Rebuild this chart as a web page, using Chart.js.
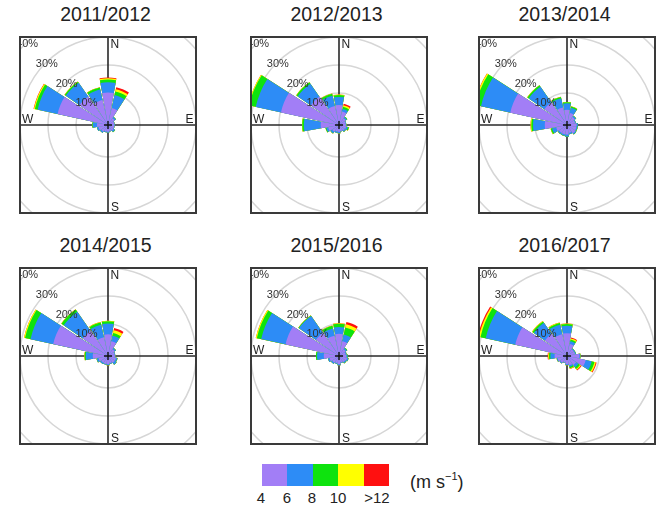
<!DOCTYPE html>
<html>
<head>
<meta charset="utf-8">
<script src="https://cdn.jsdelivr.net/npm/chart.js@4/dist/chart.umd.min.js"></script>
<style>
  html, body { margin: 0; padding: 0; background: #fff; }
  body { width: 658px; height: 510px; position: relative; overflow: hidden;
         font-family: "Liberation Sans", Arial, Helvetica, sans-serif; color: #222; }
  .title { position: absolute; width: 200px; text-align: center; font-size: 19.5px; line-height: 19.5px; color: #222; }
  .box { position: absolute; width: 174px; height: 174px; border: 2px solid #3a3a3a; }
  .box canvas { display: block; }
  #legend { position: absolute; left: 262px; top: 464px; height: 22px; display: flex; }
  #legend div { width: 25.4px; height: 22px; }
  .lg { position: absolute; top: 490px; font-size: 15px; line-height: 15px; width: 40px; text-align: center; color: #222; }
  #unit { position: absolute; left: 410px; top: 468px; font-size: 18px; line-height: 18px; color: #222; }
  #unit sup { font-size: 11px; position: relative; top: -1px; }
</style>
</head>
<body>
<script>
// ---------------- data ----------------
const directions = ['N','NNE','NE','ENE','E','ESE','SE','SSE','S','SSW','SW','WSW','W','WNW','NW','NNW'];
const speedBins = ['4-6', '6-8', '8-10', '10-12', '>12'];
const legendTicks = ['4', '6', '8', '10', '>12'];
const gridPercents = [10, 20, 30, 40];
const seasons = ['2011/2012', '2012/2013', '2013/2014', '2014/2015', '2015/2016', '2016/2017'];

// cumulative frequency (%) per direction, up to the top of each speed bin
const rose2011 = [
  [10.2, 4.8, 1.5, 0.8, 0.8, 0.8, 1.0, 0.8, 1.0, 1.0, 1.5, 2.0, 2.5, 17.0, 11.0, 7.7],
  [13.8, 9.5, 2.0, 1.0, 1.0, 1.0, 1.6, 1.0, 1.3, 1.3, 2.0, 2.6, 4.0, 24.3, 16.9, 11.5],
  [14.8, 10.8, 2.1, 1.0, 1.0, 1.0, 1.7, 1.0, 1.3, 1.3, 2.0, 2.6, 4.2, 25.3, 17.4, 12.3],
  [15.3, 11.6, 2.1, 1.0, 1.0, 1.0, 1.7, 1.0, 1.3, 1.3, 2.0, 2.6, 4.2, 25.7, 17.5, 12.4],
  [15.5, 12.4, 2.1, 1.0, 1.0, 1.0, 1.7, 1.0, 1.3, 1.3, 2.0, 2.6, 4.2, 25.8, 17.5, 12.4]
];
const rose2012 = [
  [5.7, 3.5, 1.5, 1.0, 1.0, 1.2, 1.0, 0.8, 1.0, 1.0, 1.5, 2.5, 5.1, 19.8, 10.8, 5.5],
  [8.6, 4.5, 2.0, 1.2, 1.2, 1.8, 1.5, 1.0, 1.5, 1.5, 2.2, 3.2, 11.1, 29.0, 16.5, 9.3],
  [9.3, 5.2, 2.2, 1.2, 1.3, 2.2, 1.6, 1.0, 1.6, 1.5, 2.3, 3.5, 11.7, 31.4, 17.1, 10.0],
  [9.5, 5.8, 2.2, 1.2, 1.3, 2.3, 1.6, 1.0, 1.6, 1.5, 2.3, 3.5, 11.8, 31.7, 17.2, 10.1],
  [9.5, 6.3, 2.2, 1.2, 1.3, 2.3, 1.6, 1.0, 1.6, 1.5, 2.3, 3.5, 11.8, 31.7, 17.2, 10.1]
];
const rose2013 = [
  [4.0, 3.0, 2.0, 1.5, 2.0, 2.0, 2.2, 1.5, 2.0, 2.0, 2.0, 2.5, 6.5, 19.3, 8.4, 5.0],
  [6.3, 4.9, 2.5, 1.8, 2.4, 2.4, 2.6, 2.0, 2.7, 2.5, 2.5, 4.0, 10.7, 30.0, 15.2, 8.3],
  [6.7, 5.3, 2.6, 1.8, 2.5, 2.5, 2.7, 2.0, 2.8, 2.6, 2.6, 4.5, 11.3, 32.0, 15.8, 8.8],
  [6.8, 5.4, 2.6, 1.8, 2.5, 2.5, 2.7, 2.0, 2.8, 2.6, 2.6, 4.6, 11.6, 32.5, 15.9, 8.9],
  [6.8, 5.4, 2.6, 1.8, 2.5, 2.5, 2.7, 2.0, 2.8, 2.6, 2.6, 4.6, 11.6, 32.6, 15.9, 8.9]
];
const rose2014 = [
  [6.3, 4.0, 1.5, 1.0, 1.0, 1.5, 1.5, 1.2, 1.5, 1.5, 1.5, 2.0, 4.0, 18.6, 9.5, 5.4],
  [10.2, 6.0, 2.0, 1.2, 1.2, 2.0, 2.3, 1.5, 1.8, 1.8, 2.0, 2.7, 6.5, 26.9, 17.8, 10.0],
  [11.0, 7.0, 2.1, 1.2, 1.2, 2.1, 2.4, 1.5, 1.9, 1.8, 2.0, 2.8, 6.9, 28.9, 18.8, 10.8],
  [11.2, 8.0, 2.1, 1.2, 1.2, 2.1, 2.4, 1.5, 1.9, 1.8, 2.0, 2.8, 7.0, 29.3, 18.9, 11.0],
  [11.2, 8.8, 2.1, 1.2, 1.2, 2.1, 2.4, 1.5, 1.9, 1.8, 2.0, 2.8, 7.0, 29.3, 18.9, 11.0]
];
const rose2015 = [
  [6.5, 4.0, 1.5, 1.0, 1.2, 1.5, 1.2, 1.0, 1.5, 1.2, 1.5, 2.0, 4.0, 18.1, 8.6, 6.0],
  [8.9, 6.4, 2.0, 1.3, 1.6, 2.0, 1.7, 1.2, 1.9, 1.5, 2.0, 2.6, 6.4, 27.0, 16.0, 8.6],
  [10.1, 9.0, 2.2, 1.4, 1.8, 2.1, 1.8, 1.2, 1.9, 1.5, 2.0, 2.6, 6.8, 28.6, 16.2, 9.6],
  [10.3, 10.2, 2.2, 1.4, 1.8, 2.1, 1.8, 1.2, 1.9, 1.5, 2.0, 2.6, 6.8, 29.0, 16.3, 9.7],
  [10.3, 11.0, 2.2, 1.4, 1.8, 2.1, 1.8, 1.2, 1.9, 1.5, 2.0, 2.6, 6.8, 29.0, 16.3, 9.7]
];
const rose2016 = [
  [6.7, 3.0, 1.5, 1.5, 3.0, 5.4, 2.5, 2.0, 1.5, 1.0, 1.5, 2.0, 3.0, 17.5, 8.2, 6.5],
  [9.4, 4.0, 1.8, 1.8, 3.3, 7.6, 3.5, 2.5, 1.8, 1.2, 1.8, 2.3, 4.5, 28.3, 13.0, 10.0],
  [10.0, 4.6, 1.9, 1.9, 3.4, 8.6, 4.2, 3.0, 1.9, 1.2, 1.8, 2.4, 5.0, 30.2, 13.6, 10.6],
  [10.2, 5.0, 1.9, 1.9, 3.4, 9.1, 4.6, 3.2, 1.9, 1.2, 1.8, 2.4, 5.3, 30.8, 13.8, 10.8],
  [10.2, 5.3, 1.9, 1.9, 3.4, 9.4, 4.9, 3.3, 1.9, 1.2, 1.8, 2.4, 5.5, 31.2, 13.8, 10.8]
];
const roses = [rose2011, rose2012, rose2013, rose2014, rose2015, rose2016];

// ---------------- styles / layout ----------------
const binColors = ['#a27ef6', '#2d8cf6', '#0ee30e', '#ffff00', '#ff1010'];
const boxLeft = [250 - 231, 250, 478];
const boxTop = [36, 267];
const pxPerPercent = 2.8;      // radial scale
const holePx = 4;              // centre offset
const sectorDeg = 20.5, gapDeg = 2.0;

const rMin = -holePx / pxPerPercent;
const drawArea = 87;
const rMax = drawArea / pxPerPercent + rMin;

const angles = [];
directions.forEach(() => { angles.push(sectorDeg, gapDeg); });

const roseDecor = {
  id: 'roseDecor',
  beforeDatasetsDraw(chart) {
    const s = chart.scales.r, ctx = chart.ctx, a = chart.chartArea;
    ctx.save();
    ctx.strokeStyle = '#2a2a2a';
    ctx.lineWidth = 1.6;
    ctx.beginPath();
    ctx.moveTo(a.left, s.yCenter); ctx.lineTo(a.right, s.yCenter);
    ctx.moveTo(s.xCenter, a.top); ctx.lineTo(s.xCenter, a.bottom);
    ctx.stroke();
    ctx.restore();
  },
  afterDatasetsDraw(chart) {
    const s = chart.scales.r, ctx = chart.ctx, a = chart.chartArea;
    const cx = s.xCenter, cy = s.yCenter;
    ctx.save();
    // centre cross
    ctx.strokeStyle = '#111';
    ctx.lineWidth = 1.4;
    ctx.beginPath();
    ctx.moveTo(cx - 4, cy); ctx.lineTo(cx + 4, cy);
    ctx.moveTo(cx, cy - 4); ctx.lineTo(cx, cy + 4);
    ctx.stroke();
    // percent labels along NW diagonal
    ctx.fillStyle = '#333';
    ctx.font = '11px "Liberation Sans", Arial, sans-serif';
    ctx.textAlign = 'center';
    ctx.textBaseline = 'middle';
    gridPercents.forEach(v => {
      const d = s.getDistanceFromCenterForValue(v) - 1.5;
      ctx.fillText(v + '%', cx - d * Math.SQRT1_2, cy - d * Math.SQRT1_2);
    });
    // compass letters
    ctx.fillStyle = '#222';
    ctx.font = '12px "Liberation Sans", Arial, sans-serif';
    ctx.textBaseline = 'alphabetic';
    ctx.textAlign = 'left';
    ctx.fillText('N', cx + 2.5, a.top + 10);
    ctx.fillText('S', cx + 3, a.bottom - 1.5);
    ctx.fillText('W', a.left + 1, cy - 2.5);
    ctx.textAlign = 'right';
    ctx.fillText('E', a.right - 1.5, cy - 2.5);
    ctx.restore();
  }
};

function makeRose(idx) {
  const col = idx % 3, row = Math.floor(idx / 3);
  const left = boxLeft[col], top = boxTop[row];

  const t = document.createElement('div');
  t.className = 'title';
  t.textContent = seasons[idx];
  t.style.left = (left + 89 - 2.5 - 100) + 'px';
  t.style.top = (top - 31.5) + 'px';
  document.body.appendChild(t);

  const box = document.createElement('div');
  box.className = 'box';
  box.style.left = left + 'px';
  box.style.top = top + 'px';
  const cv = document.createElement('canvas');
  cv.width = 174; cv.height = 174;
  box.appendChild(cv);
  document.body.appendChild(box);

  const labels = [];
  directions.forEach(d => { labels.push(d, ''); });

  const datasets = speedBins.map((bin, b) => {
    const data = [];
    roses[idx][b].forEach(v => { data.push(v, rMin); });
    return {
      label: bin,
      data: data,
      backgroundColor: binColors[b],
      borderWidth: 0,
      angle: angles
    };
  });

  new Chart(cv, {
    type: 'polarArea',
    data: { labels: labels, datasets: datasets },
    options: {
      responsive: false,
      animation: false,
      devicePixelRatio: 1,
      layout: { padding: 0 },
      plugins: { legend: { display: false }, tooltip: { enabled: false } },
      scales: {
        r: {
          min: rMin,
          max: rMax,
          startAngle: -sectorDeg / 2,
          afterBuildTicks: (scale) => { scale.ticks = gridPercents.map(v => ({ value: v })); },
          ticks: { display: false },
          grid: { circular: true, color: '#d6d6d6', lineWidth: 1.5 },
          angleLines: { display: false },
          pointLabels: { display: false }
        }
      }
    },
    plugins: [roseDecor]
  });
}

for (let i = 0; i < 6; i++) makeRose(i);

// legend
const lg = document.createElement('div');
lg.id = 'legend';
binColors.forEach(c => { const d = document.createElement('div'); d.style.background = c; lg.appendChild(d); });
document.body.appendChild(lg);
const lgX = [261, 287, 312, 338, 377];
legendTicks.forEach((txt, i) => {
  const d = document.createElement('div');
  d.className = 'lg';
  d.textContent = txt;
  d.style.left = (lgX[i] - 20) + 'px';
  document.body.appendChild(d);
});
const unit = document.createElement('div');
unit.id = 'unit';
unit.innerHTML = '(m s<sup>\u22121</sup>)';
document.body.appendChild(unit);
</script>
</body>
</html>
